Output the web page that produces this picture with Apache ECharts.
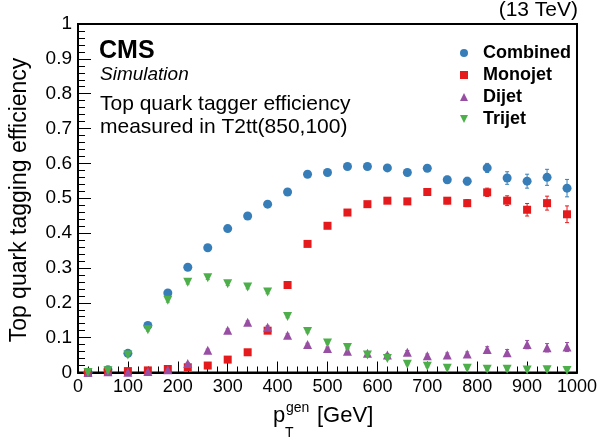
<!DOCTYPE html>
<html>
<head>
<meta charset="utf-8">
<script src="https://cdn.jsdelivr.net/npm/echarts@6/dist/echarts.min.js"></script>
<style>
  html, body { margin: 0; padding: 0; background: #fff; }
  #chart { width: 602px; height: 445px; }
</style>
</head>
<body>
<div id="chart"></div>
<script>
// bin centres of p_T^gen [GeV]
const ptBins = [20, 60, 100, 140, 180, 220, 260, 300, 340, 380, 420, 460, 500,
  540, 580, 620, 660, 700, 740, 780, 820, 860, 900, 940, 980];

const combined = [0.001, 0.008, 0.055, 0.135, 0.228, 0.302, 0.358, 0.413, 0.449, 0.483,
  0.518, 0.569, 0.574, 0.591, 0.591, 0.587, 0.574, 0.586, 0.553, 0.549,
  0.587, 0.558, 0.549, 0.56, 0.529];
const combinedErr = [0.001, 0.002, 0.004, 0.005, 0.006, 0.006, 0.006, 0.006, 0.006, 0.006,
  0.006, 0.006, 0.006, 0.006, 0.007, 0.007, 0.008, 0.008, 0.010, 0.011,
  0.013, 0.018, 0.020, 0.023, 0.025];

const monojet = [0.0, 0.003, 0.004, 0.006, 0.01, 0.015, 0.02, 0.037, 0.058, 0.12,
  0.251, 0.369, 0.421, 0.459, 0.483, 0.493, 0.491, 0.518, 0.493, 0.486,
  0.517, 0.493, 0.467, 0.486, 0.454];
const monojetErr = [0.001, 0.001, 0.001, 0.002, 0.002, 0.003, 0.003, 0.004, 0.004, 0.005,
  0.006, 0.006, 0.006, 0.006, 0.007, 0.007, 0.008, 0.008, 0.009, 0.010,
  0.012, 0.014, 0.018, 0.020, 0.024];

const dijet = [0.0, 0.002, 0.001, 0.003, 0.008, 0.026, 0.064, 0.121, 0.144, 0.13,
  0.107, 0.08, 0.069, 0.061, 0.055, 0.05, 0.058, 0.048, 0.05, 0.053,
  0.066, 0.057, 0.08, 0.071, 0.073];
const dijetErr = [0.001, 0.001, 0.001, 0.001, 0.002, 0.003, 0.003, 0.004, 0.004, 0.004,
  0.004, 0.004, 0.004, 0.004, 0.004, 0.004, 0.005, 0.005, 0.006, 0.006,
  0.008, 0.009, 0.012, 0.012, 0.013];

const trijet = [0.0, 0.005, 0.05, 0.123, 0.207, 0.259, 0.272, 0.255, 0.245, 0.231,
  0.161, 0.118, 0.085, 0.072, 0.05, 0.04, 0.024, 0.018, 0.012, 0.012,
  0.009, 0.009, 0.007, 0.008, 0.006];
const trijetErr = [0.001, 0.002, 0.003, 0.004, 0.005, 0.005, 0.005, 0.005, 0.005, 0.005,
  0.004, 0.004, 0.003, 0.003, 0.003, 0.003, 0.002, 0.002, 0.002, 0.002,
  0.002, 0.002, 0.002, 0.002, 0.002];

const FONT = "Liberation Sans, Arial, Helvetica, sans-serif";
const downTri = "path://M0,0L10,0L5,10Z";

const chart = echarts.init(document.getElementById("chart"));

function points(vals) {
  return ptBins.map((x, i) => [x, vals[i]]);
}
function errPoints(vals, errs) {
  return ptBins.map((x, i) => [x, vals[i], errs[i]]);
}

// vertical error bars with small caps
function errorBars(name, vals, errs, color) {
  return {
    name: name,
    type: "custom",
    data: errPoints(vals, errs),
    z: 2,
    silent: true,
    renderItem: (params, api) => {
      const x = api.value(0), y = api.value(1), e = api.value(2);
      const hi = api.coord([x, y + e]);
      const lo = api.coord([x, Math.max(0, y - e)]);
      const style = { stroke: color, lineWidth: 1 };
      return {
        type: "group",
        children: [
          { type: "line", shape: { x1: hi[0], y1: hi[1], x2: lo[0], y2: lo[1] }, style },
          { type: "line", shape: { x1: hi[0] - 2, y1: hi[1], x2: hi[0] + 2, y2: hi[1] }, style },
          { type: "line", shape: { x1: lo[0] - 2, y1: lo[1], x2: lo[0] + 2, y2: lo[1] }, style },
        ],
      };
    },
  };
}

const blue = "#377eb8", red = "#e41a1c", purple = "#984ea3", green = "#4daf4a";

const option = {
  animation: false,
  backgroundColor: "#fff",
  textStyle: { fontFamily: FONT },
  grid: {
    left: 78, right: 25, top: 24, bottom: 72.5,
    show: true, borderColor: "#000", borderWidth: 2,
  },
  legend: {
    orient: "vertical",
    left: 455,
    top: 39,
    itemWidth: 8,
    itemHeight: 8,
    itemGap: 4,
    symbolKeepAspect: true,
    textStyle: { fontFamily: FONT, fontSize: 18, fontWeight: "bold", color: "#000",
      lineHeight: 18, padding: [0, 0, 0, 10] },
    data: [
      { name: "Combined", icon: "circle" },
      { name: "Monojet", icon: "rect" },
      { name: "Dijet", icon: "triangle" },
      { name: "Trijet", icon: downTri },
    ],
  },
  xAxis: {
    type: "value",
    min: 0, max: 1000, interval: 100,
    axisLine: { lineStyle: { color: "#000", width: 2 } },
    axisTick: { inside: true, length: 11, lineStyle: { color: "#000", width: 1 } },
    minorTick: { show: true, splitNumber: 5, length: 6, lineStyle: { color: "#000", width: 1 } },
    splitLine: { show: false },
    axisLabel: { color: "#000", fontSize: 18, fontFamily: FONT, margin: 6,
      formatter: (v) => String(v) },
  },
  yAxis: {
    type: "value",
    min: 0, max: 1, interval: 0.1,
    axisLine: { lineStyle: { color: "#000", width: 2 } },
    axisTick: { inside: true, length: 13, lineStyle: { color: "#000", width: 1 } },
    minorTick: { show: true, splitNumber: 5, length: 7, lineStyle: { color: "#000", width: 1 } },
    splitLine: { show: false },
    axisLabel: { color: "#000", fontSize: 19, fontFamily: FONT, margin: 6 },
  },
  graphic: [
    { type: "text", x: 20, y: 200, rotation: Math.PI / 2,
      style: { text: "Top quark tagging efficiency", font: "23px " + FONT, fill: "#000",
        align: "center", verticalAlign: "middle" } },
    { type: "text", x: 273, y: 416,
      style: { text: "p", font: "22px " + FONT, fill: "#000", verticalAlign: "middle" } },
    { type: "text", x: 286, y: 408,
      style: { text: "gen", font: "14px " + FONT, fill: "#000", verticalAlign: "middle" } },
    { type: "text", x: 285, y: 433,
      style: { text: "T", font: "14px " + FONT, fill: "#000", verticalAlign: "middle" } },
    { type: "text", x: 317, y: 416,
      style: { text: "[GeV]", font: "22px " + FONT, fill: "#000", verticalAlign: "middle" } },
    { type: "text", x: 578, y: 10,
      style: { text: "(13 TeV)", font: "21px " + FONT, fill: "#000", align: "right", verticalAlign: "middle" } },
    { type: "text", x: 99, y: 51,
      style: { text: "CMS", font: "bold 25px " + FONT, fill: "#000", verticalAlign: "middle" } },
    { type: "text", x: 100, y: 75,
      style: { text: "Simulation", font: "italic 19px " + FONT, fill: "#000", verticalAlign: "middle" } },
    { type: "text", x: 100, y: 104,
      style: { text: "Top quark tagger efficiency", font: "21px " + FONT, fill: "#000", verticalAlign: "middle" } },
    { type: "text", x: 100, y: 127,
      style: { text: "measured in T2tt(850,100)", font: "21px " + FONT, fill: "#000", verticalAlign: "middle" } },
  ],
  series: [
    errorBars("Combined err", combined, combinedErr, blue),
    errorBars("Monojet err", monojet, monojetErr, red),
    errorBars("Dijet err", dijet, dijetErr, purple),
    errorBars("Trijet err", trijet, trijetErr, green),
    { name: "Combined", type: "scatter", data: points(combined), symbol: "circle", symbolSize: 9,
      itemStyle: { color: blue, opacity: 1 }, z: 3 },
    { name: "Monojet", type: "scatter", data: points(monojet), symbol: "rect", symbolSize: 8,
      itemStyle: { color: red, opacity: 1 }, z: 3 },
    { name: "Dijet", type: "scatter", data: points(dijet), symbol: "triangle", symbolSize: 9,
      itemStyle: { color: purple, opacity: 1 }, z: 3 },
    { name: "Trijet", type: "scatter", data: points(trijet), symbol: "triangle", symbolRotate: 180,
      symbolSize: 9, itemStyle: { color: green, opacity: 1 }, z: 3 },
  ],
};

chart.setOption(option);
</script>
</body>
</html>
